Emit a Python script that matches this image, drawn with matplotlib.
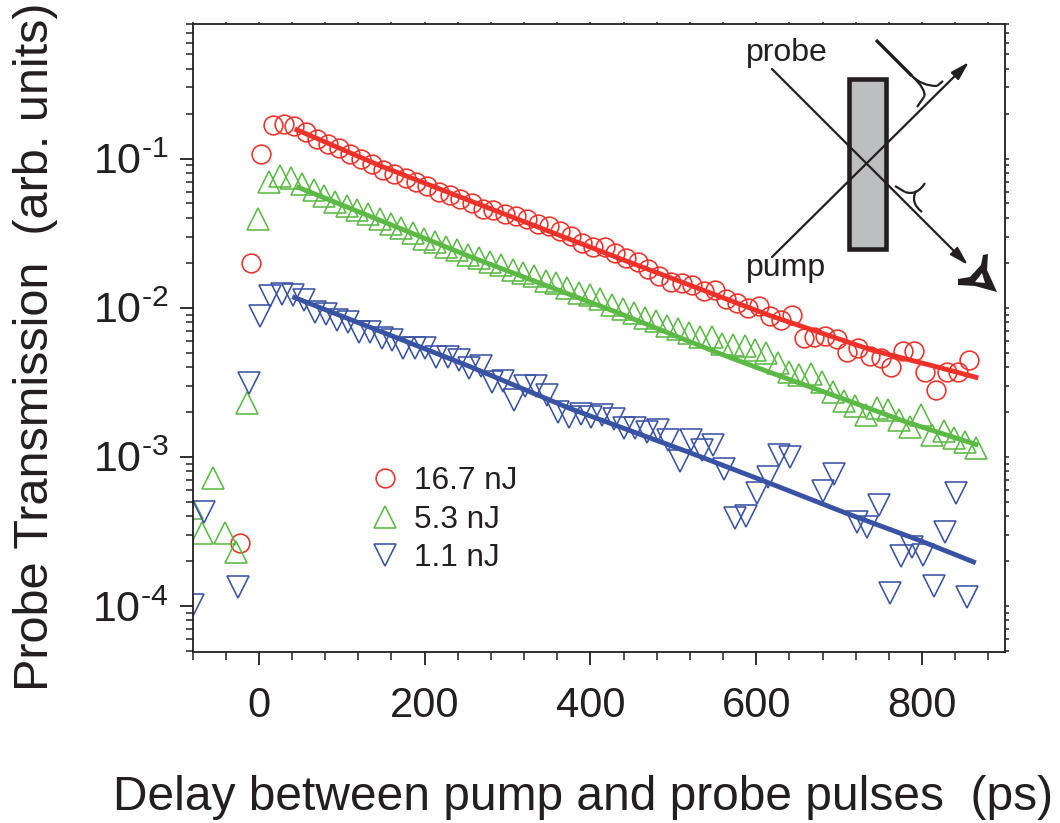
import matplotlib
import matplotlib.pyplot as plt
import matplotlib.ticker as ticker
from matplotlib.patches import Rectangle, PathPatch
from matplotlib.path import Path

matplotlib.use('Agg')

plt.rcParams['font.family'] = ['Liberation Sans', 'DejaVu Sans']
plt.rcParams['mathtext.fontset'] = 'custom'
plt.rcParams['mathtext.rm'] = 'Liberation Sans'
plt.rcParams['mathtext.default'] = 'regular'

RED = '#ee3129'
GREEN = '#5cb946'
BLUE = '#3953a4'
BLACK = '#231f20'

# 16.7 nJ
red_x = [-23, -10, 3, 17, 30, 43, 57, 70, 83, 97, 110, 123, 137, 150, 163, 177, 190,
         203, 217, 230, 243, 257, 270, 283, 297, 310, 323, 337, 350, 363, 377, 390,
         403, 417, 430, 443, 457, 470, 483, 497, 510, 523, 537, 550, 563, 577, 590,
         603, 617, 630, 643, 657, 670, 683, 697, 710, 723, 737, 750, 763, 777, 790,
         803, 817, 830, 843, 857]
red_y = [2.64e-4, .0198, .108, .169, .172, .166, .152, .136, .126, .117, .108, .100,
         .0926, .0844, .0794, .0746, .0702, .0659, .0601, .0574, .054, .05, .0462,
         .0455, .0422, .0415, .0396, .0367, .0351, .0325, .0301, .027, .0254, .0257,
         .0231, .0214, .0204, .0183, .0162, .0148, .0146, .0141, .0129, .0131, .0115,
         .0107, .01, .0103, .00875, .00822, .00887, .00623, .00632, .00643, .00614,
         .00502, .00534, .00472, .00457, .00398, .00509, .00509, .00369, .00279,
         .00369, .00369, .00444]

# 5.3 nJ
green_x = [-81, -68, -55, -41, -28, -14, -1, 12, 26, 39, 52, 66, 79, 92, 106, 119, 132,
           146, 159, 172, 186, 199, 212, 226, 239, 252, 266, 279, 292, 306, 319, 332,
           346, 359, 372, 386, 399, 412, 426, 439, 452, 466, 479, 492, 506, 519, 532,
           546, 559, 572, 586, 599, 612, 626, 639, 652, 666, 679, 692, 706, 719, 732,
           746, 759, 772, 786, 799, 812, 826, 839, 852, 865]
green_y = [4.53e-4, 3.08e-4, 7.19e-4, 3.08e-4, 2.3e-4, .00229, .0396, .0702, .0769,
           .0746, .068, .062, .0565, .0515, .0484, .0449, .0428, .0396, .0367, .034,
           .0315, .0291, .0274, .0254, .0242, .0224, .0214, .0204, .0192, .0178, .017,
           .0162, .0152, .0146, .0135, .0126, .0121, .0114, .0105, .00974, .00916,
           .00847, .00809, .0075, .00716, .00673, .00632, .00632, .00568, .00559,
           .00551, .00518, .00494, .00424, .00369, .00352, .00358, .00316, .00271,
           .00236, .00218, .0019, .00211, .00205, .00176, .00158, .0019, .0014,
           .00148, .00133, .00125, .00114]

# 1.1 nJ
blue_x = [-80, -66, -25, -12, 1, 14, 28, 41, 54, 68, 81, 94, 108, 121, 134, 148, 161,
          174, 188, 201, 214, 228, 241, 254, 268, 281, 294, 308, 321, 334, 348, 361,
          374, 388, 401, 414, 428, 441, 454, 468, 481, 494, 508, 521, 534, 548, 561,
          574, 588, 601, 614, 628, 641, 681, 694, 721, 734, 748, 761, 774, 788, 801,
          814, 828, 841, 854]
blue_y = [1.01e-4, 4.26e-4, 1.34e-4, .00311, .00875, .0119, .0123, .0121, .0112, .00931,
          .00902, .00822, .00798, .00684, .00684, .00622, .00604, .00533, .00533,
          .00533, .00465, .00465, .00444, .00392, .00404, .00316, .00321, .00239,
          .00297, .00297, .00259, .00199, .00184, .00193, .00184, .0019, .00179,
          .00156, .00156, .00146, .00151, .00129, 9.35e-4, .00129, .00111, .0012,
          8.26e-4, 3.88e-4, 4.0e-4, 5.7e-4, 7.29e-4, .00103, 9.94e-4, 5.89e-4, 7.64e-4,
          3.65e-4, 3.37e-4, 4.74e-4, 1.22e-4, 2.16e-4, 2.48e-4, 2.19e-4, 1.36e-4,
          3.13e-4, 5.7e-4, 1.15e-4]

# fits
red_fit_x = [46, 146, 254, 435, 616, 740, 820, 865]
red_fit_y = [.156, .0897, .0523, .0214, .00887, .00518, .00398, .00341]
green_fit_x = [48, 254, 435, 555, 616, 700, 781, 865]
green_fit_y = [.064, .0221, .00916, .00494, .00369, .0025, .00171, .00121]
blue_fit_x = [43, 254, 374, 519, 616, 708, 796, 862]
blue_fit_y = [.0117, .00404, .00212, .00107, 6.65e-4, 4.19e-4, 2.76e-4, 1.97e-4]

x_ticks = [0, 200, 400, 600, 800]
y_ticks = [1e-4, 1e-3, 1e-2, 1e-1]
y_tick_labels = [r'$10^{\text{-}4}$', r'$10^{\text{-}3}$', r'$10^{\text{-}2}$', r'$10^{\text{-}1}$']
legend_labels = ['16.7 nJ', '5.3 nJ', '1.1 nJ']

fig = plt.figure(figsize=(10.6, 8.23), dpi=100)
ax = fig.add_axes([192.5 / 1060, 1 - 652 / 823, (1005 - 192.5) / 1060, (652 - 24) / 823])

ms = 13.5
tri = 15.5
mew = 1.15
l1, = ax.plot(red_x, red_y, 'o', mfc='none', mec=RED, mew=mew, ms=ms)
l2, = ax.plot(green_x, green_y, '^', mfc='none', mec=GREEN, mew=mew, ms=tri)
l3, = ax.plot(blue_x, blue_y, 'v', mfc='none', mec=BLUE, mew=mew, ms=tri)
ax.plot(red_fit_x, red_fit_y, color=RED, lw=3.5)
ax.plot(green_fit_x, green_fit_y, color=GREEN, lw=3.5)
ax.plot(blue_fit_x, blue_fit_y, color=BLUE, lw=3.5)

ax.set_yscale('log')
ax.set_xlim(-80, 900)
ax.set_ylim(4.9e-5, 0.8)

y_minor = ticker.LogLocator(base=10, subs=range(2, 10), numticks=12)
ax.xaxis.set_major_locator(ticker.FixedLocator(x_ticks))
ax.xaxis.set_minor_locator(ticker.MultipleLocator(40))
ax.yaxis.set_major_locator(ticker.FixedLocator(y_ticks))
ax.yaxis.set_major_formatter(ticker.FixedFormatter(y_tick_labels))
ax.yaxis.set_minor_locator(y_minor)
ax.yaxis.set_minor_formatter(ticker.NullFormatter())

ax.tick_params(axis='both', which='major', direction='out', width=1.3, labelsize=30,
               color=BLACK, labelcolor=BLACK)
ax.tick_params(axis='x', which='major', length=9.5, pad=15)
ax.tick_params(axis='y', which='major', length=9.5, pad=8, labelsize=31)
ax.tick_params(axis='x', which='minor', direction='out', length=5.5, width=1.1, color=BLACK)
ax.tick_params(axis='y', which='minor', direction='out', length=5, width=1.1, color=BLACK)
for s in ax.spines.values():
    s.set_linewidth(1.3)
    s.set_color(BLACK)

# короткие риски сверху и справа
top = ax.secondary_xaxis('top')
top.xaxis.set_major_locator(ticker.MultipleLocator(40))
top.xaxis.set_major_formatter(ticker.NullFormatter())
top.tick_params(direction='out', length=1.5, width=1.1, color=BLACK)
top.spines['top'].set_visible(False)

right = ax.secondary_yaxis('right')
right.yaxis.set_major_locator(ticker.LogLocator(base=10, subs=range(1, 10), numticks=12))
right.yaxis.set_major_formatter(ticker.NullFormatter())
right.yaxis.set_minor_locator(ticker.NullLocator())
right.tick_params(direction='out', length=3, width=1.1, color=BLACK)
right.spines['right'].set_visible(False)

# подписи осей
fig.text(583 / 1060, 1 - 798 / 823, 'Delay between pump and probe pulses  (ps)', fontsize=34.5,
         ha='center', va='center', color=BLACK)
fig.text(36 / 1060, 1 - 347 / 823, 'Probe Transmission  (arb. units)', fontsize=35,
         rotation=90, ha='center', va='center', color=BLACK)

ax.legend([l1, l2, l3], legend_labels, loc='upper left', bbox_to_anchor=(0.218, 0.296),
          frameon=False, fontsize=22.7, labelspacing=0.27, handlelength=1.0, handletextpad=0.4,
          borderpad=0, borderaxespad=0, labelcolor=BLACK)

# схема эксперимента, координаты в пикселях картинки
ov = fig.add_axes([0, 0, 1, 1], facecolor='none')
ov.set_xlim(0, 1060)
ov.set_ylim(823, 0)
ov.axis('off')

ov.add_patch(Rectangle((848.5, 79), 37.5, 170, fc='#bcbec0', ec=BLACK, lw=3.3, joinstyle='miter'))
arrow = dict(arrowstyle='-|>,head_length=0.7,head_width=0.2', color=BLACK, lw=1.6,
             shrinkA=0, shrinkB=0, mutation_scale=16)
ov.annotate('', xy=(968, 265), xytext=(772, 69), arrowprops=arrow)
ov.annotate('', xy=(969, 62), xytext=(772, 257), arrowprops=arrow)
ov.text(746, 53, 'probe', fontsize=23, ha='left', va='center', color=BLACK)
ov.text(746, 268, 'pump', fontsize=23, ha='left', va='center', color=BLACK)


def pulse(verts, lw):
    codes = [Path.MOVETO] + [Path.LINETO] * (len(verts) - 1)
    ov.add_patch(PathPatch(Path(verts, codes), fc='none', ec=BLACK, lw=lw, capstyle='butt'))


def curve(p0, c, p1, lw):
    ov.add_patch(PathPatch(Path([p0, c, p1], [Path.MOVETO, Path.CURVE3, Path.CURVE3]),
                           fc='none', ec=BLACK, lw=lw, capstyle='butt'))


pulse([(876, 40), (912, 76)], 2.4)
curve((912, 76), (922, 86), (937, 86), 1.6)
pulse([(937, 86), (943, 81)], 1.6)
curve((912, 76), (927, 90), (924, 97), 1.6)
pulse([(924, 97), (917, 107)], 1.6)

pulse([(895, 186), (905, 192)], 1.6)
curve((905, 192), (917, 196), (925, 183), 1.6)
curve((916, 191), (910, 203), (922, 212), 1.6)

# детектор
outer = [(983, 255), (988, 254), (987, 270), (997, 292), (975, 286), (958, 285),
         (958, 279), (970, 277), (981, 265), (983, 255)]
inner = [(982, 273), (975, 282), (985, 283), (982, 273)]
det_codes = ([Path.MOVETO] + [Path.LINETO] * (len(outer) - 2) + [Path.CLOSEPOLY]
             + [Path.MOVETO] + [Path.LINETO] * (len(inner) - 2) + [Path.CLOSEPOLY])
ov.add_patch(PathPatch(Path(outer + inner, det_codes), fc=BLACK, ec='none'))

fig.savefig('out.png', dpi=100)
